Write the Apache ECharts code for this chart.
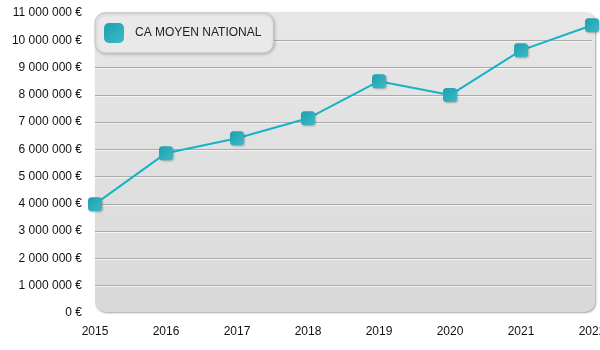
<!DOCTYPE html>
<html><head><meta charset="utf-8">
<script src="https://cdn.jsdelivr.net/npm/echarts@6/dist/echarts.min.js"></script>
<style>html,body{margin:0;padding:0;background:#fff}#c{width:600px;height:350px}</style>
</head><body><div id="c"></div>
<script>
var years = ['2015','2016','2017','2018','2019','2020','2021','2022'];
var caMoyen = [3990000, 5860000, 6410000, 7140000, 8500000, 7990000, 9630000, 10550000];
var seriesName = 'CA MOYEN NATIONAL';
var yMax = 11000000, yStep = 1000000;

function fmt(v){ return String(v).replace(/\B(?=(\d{3})+(?!\d))/g, ' ') + ' €'; }

var chart = echarts.init(document.getElementById('c'), null, {renderer:'canvas'});
var gridColors = [];
for (var i = 0; i <= yMax / yStep; i++) gridColors.push(i === 0 || i === yMax / yStep ? 'rgba(0,0,0,0)' : '#aaaaaa');

var markerFill = new echarts.graphic.LinearGradient(0,0,1,1,[{offset:0,color:'#1e9fae'},{offset:1,color:'#3cbac6'}]);

chart.setOption({
  animation:false,
  textStyle:{fontFamily:'Liberation Sans, Arial, sans-serif'},
  graphic:[{
    type:'rect', z:-10, silent:true,
    shape:{x:95,y:12,width:500,height:300,r:10},
    style:{
      fill:new echarts.graphic.LinearGradient(0,0,0,1,[{offset:0,color:'#e7e7e7'},{offset:1,color:'#d9d9d9'}]),
      shadowColor:'rgba(0,0,0,0.35)', shadowBlur:2, shadowOffsetX:1, shadowOffsetY:1
    }
  }],
  grid:{left:95,right:8,top:13,bottom:37,containLabel:false,outerBoundsMode:'none'},
  legend:{
    left:95, top:13,
    padding:[10,12,10,9],
    backgroundColor:'#e9e9e9',
    borderColor:'#c6c6c6', borderWidth:1, borderRadius:10,
    shadowColor:'rgba(0,0,0,0.2)', shadowBlur:3, shadowOffsetX:1, shadowOffsetY:1,
    itemWidth:20, itemHeight:20, icon:'roundRect',
    textStyle:{fontSize:12,color:'#222',padding:[0,0,0,6]},
    data:[seriesName]
  },
  xAxis:{
    type:'category', data:years, boundaryGap:false,
    axisLine:{show:false}, axisTick:{show:false},
    axisLabel:{color:'#111',fontSize:12,margin:13,hideOverlap:false}
  },
  yAxis:{
    type:'value', min:0, max:yMax, interval:yStep,
    axisLine:{show:false}, axisTick:{show:false},
    axisLabel:{color:'#111',fontSize:12,margin:13,formatter:fmt},
    splitLine:{show:true,lineStyle:{color:gridColors,width:1,shadowColor:'#f4f4f4',shadowOffsetY:1,shadowBlur:0}}
  },
  series:[{
    name:seriesName, type:'line', data:caMoyen,
    symbol:'roundRect', symbolSize:14, showSymbol:true,
    lineStyle:{color:'#16b3c6',width:2},
    itemStyle:{color:markerFill, shadowColor:'rgba(0,0,0,0.25)', shadowBlur:2, shadowOffsetX:1, shadowOffsetY:1},
    clip:false
  }]
});
</script></body></html>
